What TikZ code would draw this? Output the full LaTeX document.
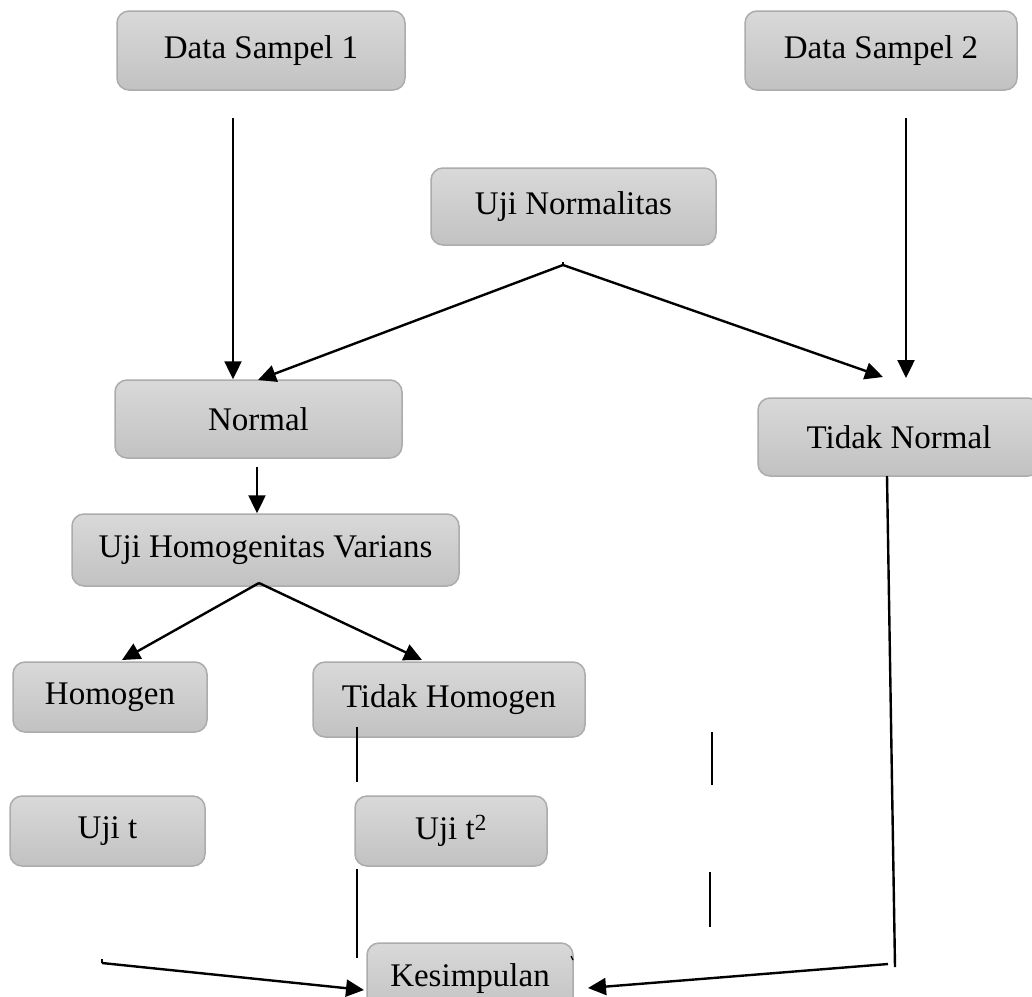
\documentclass[tikz,border=0pt]{standalone}
\usepackage{fontspec}
\setmainfont{Liberation Serif}
\usetikzlibrary{arrows.meta,shadings}
\tikzset{
  box/.style={rectangle, rounded corners=12pt, draw=gray!65, line width=1.5pt,
    top color=gray!30, bottom color=gray!48, inner sep=0pt,
    font=\fontsize{33}{39}\selectfont, text=black},
  conn/.style={line width=2.4pt, black},
  arr/.style={conn, -{Triangle[length=18pt,width=17pt]}},
}
\begin{document}
\begin{tikzpicture}[x=1pt,y=-1pt]
\clip (0,0) rectangle (1032,996);
\fill[white] (0,0) rectangle (1032,996);
% boxes
\node[box, minimum width=288pt, minimum height=79pt] (ds1) at (261,50.5) {Data Sampel 1};
\node[box, minimum width=272pt, minimum height=79pt] (ds2) at (881,50.5) {Data Sampel 2};
\node[box, minimum width=285pt, minimum height=77pt] (un) at (573.5,206.5) {Uji Normalitas};
\node[box, minimum width=287pt, minimum height=78pt] (nor) at (258.5,419) {Normal};
\node[box, minimum width=282pt, minimum height=78pt] (tn) at (899,437) {Tidak Normal};
\node[box, minimum width=387pt, minimum height=72pt] (uhv) at (265.5,550) {Uji Homogenitas Varians};
\node[box, minimum width=194pt, minimum height=70pt] (hom) at (110,697) {Homogen};
\node[box, minimum width=272pt, minimum height=75pt] (th) at (449,699.5) {Tidak Homogen};
\node[box, minimum width=195pt, minimum height=70pt] (ujt) at (107.5,831) {Uji t};
\node[box, minimum width=192pt, minimum height=70pt] (ujt2) at (451,831) {Uji t\textsuperscript{2}};
\node[box, minimum width=206pt, minimum height=72pt] (kes) at (470,979) {Kesimpulan};
% free end coordinates
\coordinate (a1) at (233,118);
\coordinate (a2) at (906,118);
\coordinate (a2e) at (906,378);
\coordinate (unx) at (563,265);
\coordinate (tne) at (883,377);
\coordinate (n1) at (257,467);
\coordinate (ux) at (259,583);
\coordinate (hte) at (122,660);
\coordinate (the) at (422,660);
\coordinate (t1) at (357,727);
\coordinate (t2) at (357,782);
\coordinate (t3) at (357,869);
\coordinate (t4) at (357,958);
\coordinate (r1) at (712,732);
\coordinate (r2) at (712,785);
\coordinate (r3) at (710,872);
\coordinate (r4) at (710,927);
\coordinate (tn1) at (887,476);
\coordinate (tn2) at (895,967);
\coordinate (tn3) at (888,964);
\coordinate (ke) at (588,988);
\coordinate (l1) at (102,963);
\coordinate (kl) at (364,990);
% connectors
\draw[arr] (a1) -- (a1 |- nor.north);
\draw[arr] (a2) -- (a2e);
\draw[arr] (unx) -- (258,380);
\draw[arr] (unx) -- (tne);
\draw[conn] (unx) -- ++(0,-3);
\draw[arr] (n1) -- (n1 |- uhv.north);
\draw[arr] (ux) -- (hte);
\draw[arr] (ux) -- (the);
\draw[conn] (t1) -- (t2);
\draw[conn] (t3) -- (t4);
\draw[conn] (r1) -- (r2);
\draw[conn] (r3) -- (r4);
\draw[conn] (tn1) -- (tn2);
\draw[arr] (tn3) -- (ke);
\draw[arr] (l1) -- (kl);
\draw[line width=1.2pt] (l1) -- ++(0,-4);
\draw[line width=1.2pt] (571,956) -- (573,960);
\end{tikzpicture}
\end{document}
